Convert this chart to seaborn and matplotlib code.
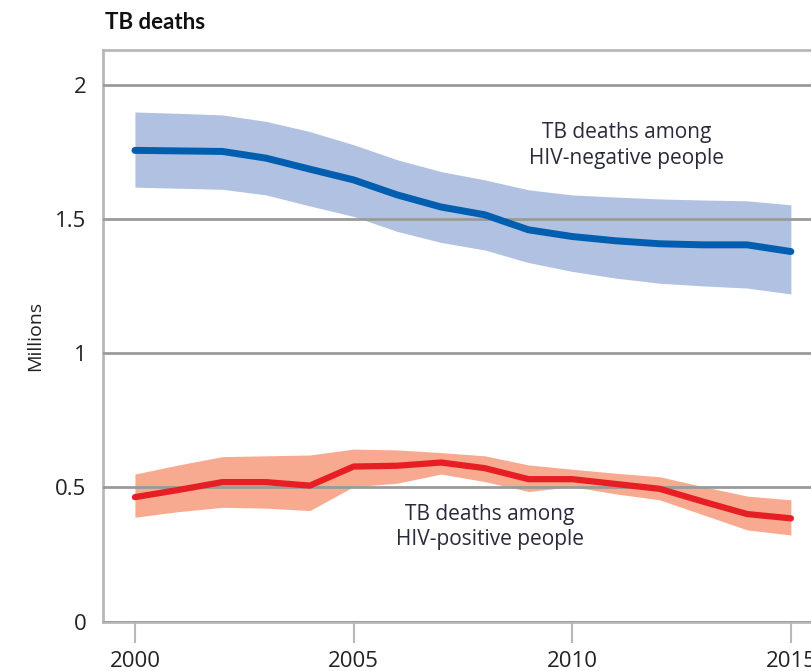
import numpy as np
import pandas as pd
import seaborn as sns
import matplotlib.pyplot as plt

# Datos (millones de muertes por TB)
years = list(range(2000, 2016))
neg_mid = [1.756, 1.754, 1.752, 1.727, 1.686, 1.646, 1.590, 1.545, 1.516, 1.460,
           1.435, 1.419, 1.408, 1.404, 1.404, 1.379]
neg_low = [1.619, 1.615, 1.611, 1.590, 1.549, 1.510, 1.454, 1.413, 1.385, 1.338,
           1.305, 1.280, 1.261, 1.251, 1.243, 1.221]
neg_high = [1.899, 1.894, 1.888, 1.864, 1.826, 1.777, 1.721, 1.677, 1.646, 1.609,
            1.590, 1.582, 1.575, 1.571, 1.568, 1.553]
pos_mid = [0.464, 0.491, 0.520, 0.520, 0.507, 0.578, 0.581, 0.593, 0.572, 0.531,
           0.531, 0.513, 0.495, 0.447, 0.401, 0.385]
pos_low = [0.389, 0.410, 0.426, 0.423, 0.414, 0.503, 0.516, 0.550, 0.522, 0.485,
           0.503, 0.476, 0.454, 0.398, 0.342, 0.323]
pos_high = [0.550, 0.584, 0.615, 0.618, 0.621, 0.643, 0.640, 0.630, 0.618, 0.584,
            0.568, 0.553, 0.540, 0.503, 0.468, 0.454]

df = pd.DataFrame({'year': years, 'neg': neg_mid, 'pos': pos_mid})

sns.set_style('white')
plt.rcParams['font.family'] = ['Open Sans', 'DejaVu Sans']

fig = plt.figure(figsize=(8.11, 6.71), dpi=100)
ax = fig.add_axes([0.127, 0.0735, 0.873, 0.852])

# bandas de incertidumbre
ax.fill_between(years, neg_low, neg_high, color='#b0c1e2', lw=0, zorder=1)
ax.fill_between(years, pos_low, pos_high, color='#f8aa90', lw=0, zorder=1)

sns.lineplot(data=df, x='year', y='neg', color='#005eb0', lw=5, ax=ax, zorder=3,
             solid_capstyle='round')
sns.lineplot(data=df, x='year', y='pos', color='#e81e25', lw=4.5, ax=ax, zorder=3,
             solid_capstyle='round')

ax.set_xlim(1999.27, 2015.46)
ax.set_ylim(0, 2.13)
ax.set_xticks([2000, 2005, 2010, 2015])
ax.set_yticks([0, 0.5, 1, 1.5, 2])
ax.set_yticklabels(['0', '0.5', '1', '1.5', '2'])

ax.set_axisbelow(False)
ax.yaxis.grid(True, color='#9a9a9a', lw=2)
ax.xaxis.grid(False)

for s in ['left', 'top', 'bottom']:
    ax.spines[s].set_color('#b8b8b8')
    ax.spines[s].set_linewidth(2)
ax.spines['right'].set_visible(False)

ax.tick_params(axis='x', length=15, width=1.5, color='#b8b8b8', pad=6,
               labelsize=16, labelcolor='#222222', direction='out', bottom=True)
ax.tick_params(axis='y', length=0, pad=12, labelsize=16, labelcolor='#222222')

ax.set_xlabel('')
ax.set_ylabel('Millions', fontsize=14, color='#222222', labelpad=8)

ax.text(2011.25, 1.773, 'TB deaths among\nHIV-negative people', ha='center',
        va='center', fontsize=15, color='#2a2a3a', linespacing=1.3)
ax.text(2008.12, 0.353, 'TB deaths among\nHIV-positive people', ha='center',
        va='center', fontsize=15, color='#2a2a3a', linespacing=1.3)

fig.text(0.129, 0.967, 'TB deaths', fontsize=16, fontweight='bold',
         family=['Lato', 'DejaVu Sans'], color='#111111', va='center')

plt.savefig('out.png', dpi=100)
